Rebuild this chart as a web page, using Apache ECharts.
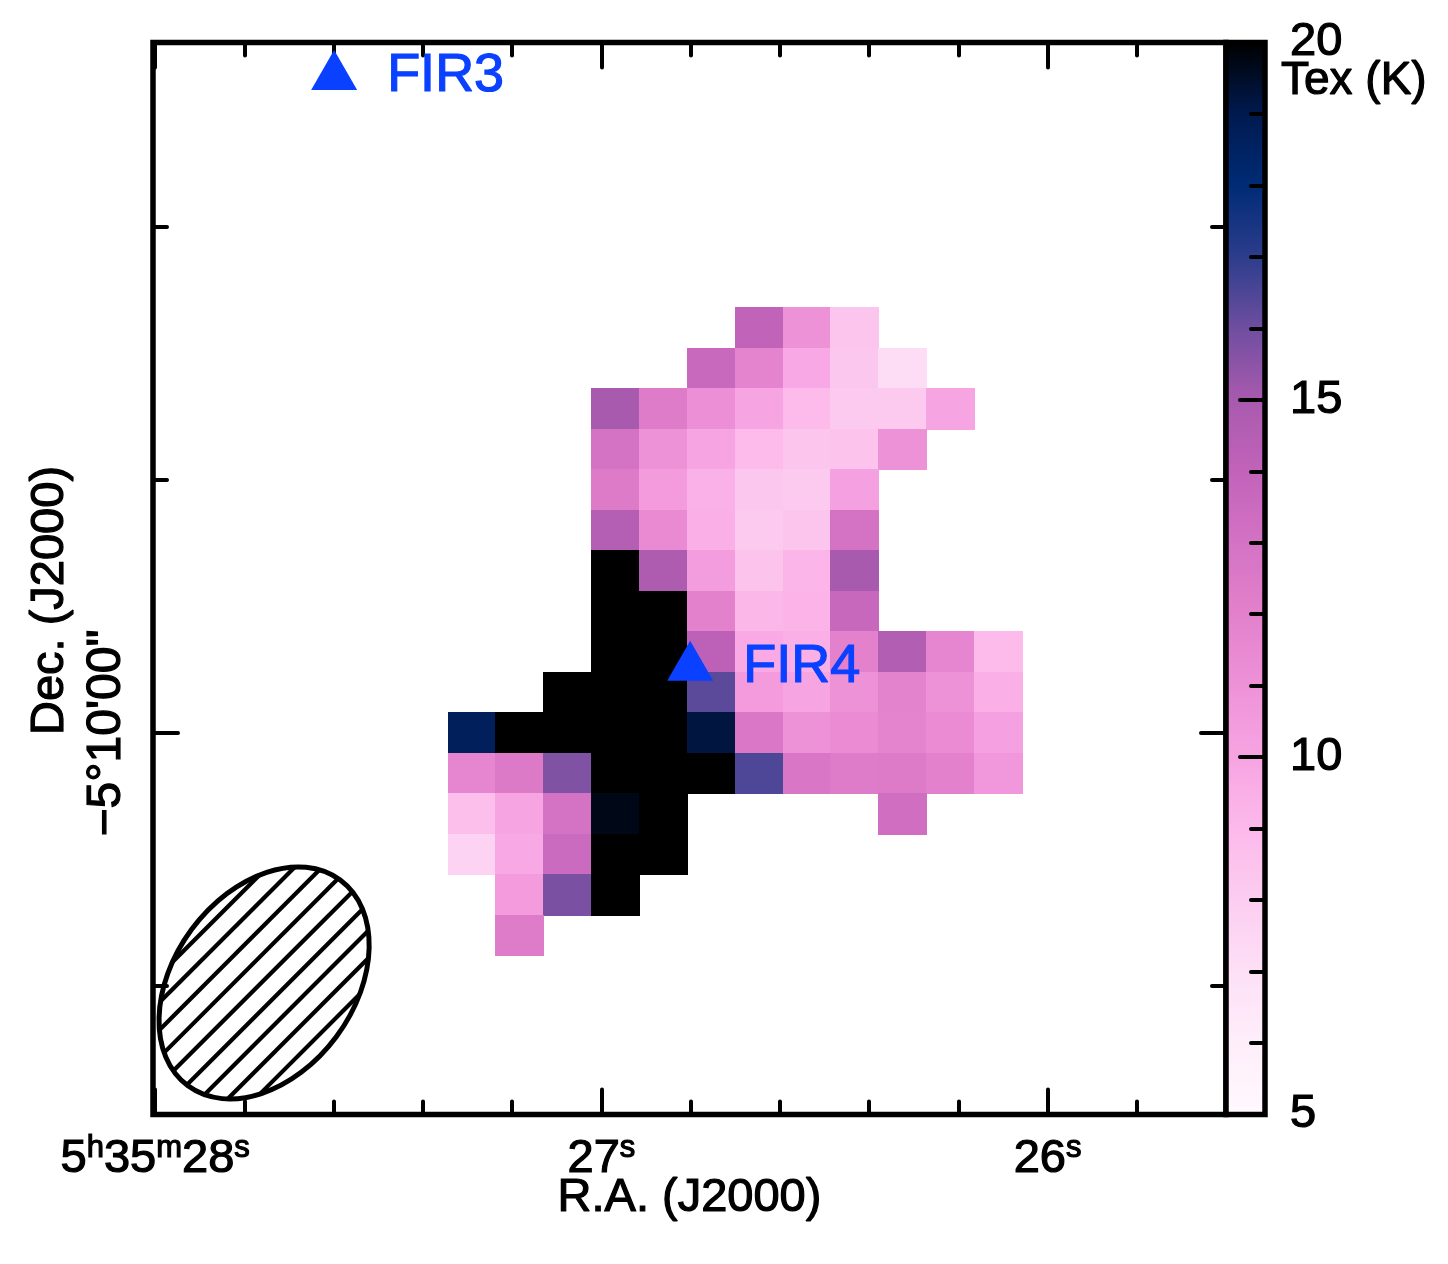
<!DOCTYPE html>
<html>
<head>
<meta charset="utf-8">
<title>Tex map</title>
<script src="https://cdn.jsdelivr.net/npm/echarts@6/dist/echarts.min.js"></script>
<style>
  html, body { margin: 0; padding: 0; background: #fff; }
  #chart { width: 1448px; height: 1264px; }
</style>
</head>
<body>
<div id="chart"></div>
<script>
// RA in seconds (after 5h35m), Dec in arcsec from -5d10m00s
const raMajorTicks = [28, 27, 26];
const raMinorTicks = [27.8, 27.6, 27.4, 27.2, 26.8, 26.6, 26.4, 26.2, 25.8];
const decMajorTicks = [0];
const decMinorTicks = [-10, 10, 20];
const texMajorTicks = [5, 10, 15, 20];
const texMinorTicks = [6, 7, 8, 9, 11, 12, 13, 14, 16, 17, 18, 19];

// pixel centres of the map
const raColumns = [27.290, 27.183, 27.076, 26.968, 26.861, 26.754, 26.646, 26.539, 26.432, 26.325, 26.217, 26.110];
const decRows = [16.0, 14.4, 12.8, 11.2, 9.6, 8.0, 6.4, 4.8, 3.2, 1.6, 0, -1.6, -3.2, -4.8, -6.4, -8.0];
const cellRa = 0.1073;
const cellDec = 1.603;

// Tex per row, saturated pixels kept at 20
const _ = null;
const texRow0  = [_, _, _, _, _, _, 14.0, 11.0, 8.4, _, _, _];
const texRow1  = [_, _, _, _, _, 13.6, 11.8, 9.8, 8.3, 7.2, _, _];
const texRow2  = [_, _, _, 15.0, 12.3, 11.2, 10.0, 8.9, 8.2, 8.2, 10.0, _];
const texRow3  = [_, _, _, 13.0, 11.0, 10.0, 8.9, 8.4, 8.5, 11.0, _, _];
const texRow4  = [_, _, _, 12.4, 10.5, 9.4, 8.3, 8.2, 10.2, _, _, _];
const texRow5  = [_, _, _, 14.5, 11.5, 9.5, 8.2, 8.4, 13.0, _, _, _];
const texRow6  = [_, _, _, 20, 14.8, 10.4, 8.5, 9.2, 15.0, _, _, _];
const texRow7  = [_, _, _, 20, 20, 12.0, 9.1, 9.3, 13.7, _, _, _];
const texRow8  = [_, _, _, 20, 20, 14.2, 9.7, 9.5, 12.0, 14.6, 11.7, 8.9];
const texRow9  = [_, _, 20, 20, 20, 16.3, 10.5, 10.0, 11.0, 11.9, 11.0, 9.5];
const texRow10 = [18.7, 20, 20, 20, 20, 19.2, 12.6, 11.0, 11.4, 11.8, 11.4, 10.2];
const texRow11 = [11.7, 12.5, 15.7, 20, 20, 20, 16.5, 12.7, 12.3, 12.4, 12.0, 10.7];
const texRow12 = [8.7, 10.0, 13.0, 19.7, 20, _, _, _, _, 13.2, _, _];
const texRow13 = [7.7, 9.8, 13.5, 20, 20, _, _, _, _, _, _, _];
const texRow14 = [_, 10.5, 15.8, 20, _, _, _, _, _, _, _, _];
const texRow15 = [_, 12.3, _, _, _, _, _, _, _, _, _, _];
const texRows = [texRow0, texRow1, texRow2, texRow3, texRow4, texRow5, texRow6, texRow7,
  texRow8, texRow9, texRow10, texRow11, texRow12, texRow13, texRow14, texRow15];

// one colour per kelvin, 5 to 20
const colorStops = ['#fff9fd', '#feeefa', '#fde0f6', '#fccdf0', '#fcb9ea', '#f7a4e2', '#ee92d8', '#e381cc',
  '#d472c4', '#c263ba', '#a85aae', '#6f4ea0', '#2c3d8c', '#002b76', '#001a50', '#000000'];

const sourceNames = ['FIR3', 'FIR4'];
const sourceRa = [27.599, 26.801];
const sourceDec = [26.2, 2.85];

// beam: centre, axes in arcsec, angle in degrees from +x
const beamRa = 27.756;
const beamDec = -9.88;
const beamMajor = 5.06;
const beamMinor = 3.56;
const beamAngle = 53.5;
const hatchSteps = [-4, -3, -2, -1, 0, 1, 2, 3, 4];

const font = 'Liberation Sans';
const blue = '#0a40ff';
const heavy = { textBorderColor: '#000', textBorderWidth: 1.2 };

const cellData = [];
texRows.forEach((row, r) => {
  row.forEach((tex, c) => {
    if (tex !== null) cellData.push([raColumns[c], decRows[r], tex]);
  });
});

function renderCell(params, api) {
  const center = api.coord([api.value(0), api.value(1)]);
  const size = api.size([cellRa, cellDec]);
  // snap to whole pixels, rounding outwards so neighbours leave no seam
  const x1 = Math.floor(center[0] - size[0] / 2);
  const x2 = Math.ceil(center[0] + size[0] / 2);
  const y1 = Math.floor(center[1] - size[1] / 2);
  const y2 = Math.ceil(center[1] + size[1] / 2);
  return {
    type: 'rect',
    shape: { x: x1, y: y1, width: x2 - x1, height: y2 - y1 },
    style: { fill: api.visual('color') }
  };
}

function renderBeam(params, api) {
  const c = api.coord([api.value(0), api.value(1)]);
  const perArcsec = api.size([0, 1])[1];
  const a = beamMajor * perArcsec;
  const b = beamMinor * perArcsec;
  const th = beamAngle * Math.PI / 180;
  const e1 = [Math.cos(th), -Math.sin(th)];
  const e2 = [Math.sin(th), Math.cos(th)];
  const d = [Math.SQRT1_2, -Math.SQRT1_2];
  const n = [Math.SQRT1_2, Math.SQRT1_2];
  const children = [];
  // hatch chords, clipped to the ellipse by hand
  hatchSteps.forEach(step => {
    const k = step * 19.4 - 2;
    const u0 = k * (n[0] * e1[0] + n[1] * e1[1]);
    const v0 = k * (n[0] * e2[0] + n[1] * e2[1]);
    const du = d[0] * e1[0] + d[1] * e1[1];
    const dv = d[0] * e2[0] + d[1] * e2[1];
    const A = du * du / (a * a) + dv * dv / (b * b);
    const B = 2 * (u0 * du / (a * a) + v0 * dv / (b * b));
    const C = u0 * u0 / (a * a) + v0 * v0 / (b * b) - 1;
    const disc = B * B - 4 * A * C;
    if (disc <= 0) return;
    const t1 = (-B - Math.sqrt(disc)) / (2 * A);
    const t2 = (-B + Math.sqrt(disc)) / (2 * A);
    children.push({
      type: 'line',
      shape: {
        x1: c[0] + k * n[0] + t1 * d[0], y1: c[1] + k * n[1] + t1 * d[1],
        x2: c[0] + k * n[0] + t2 * d[0], y2: c[1] + k * n[1] + t2 * d[1]
      },
      style: { stroke: '#000', lineWidth: 4.2, fill: null }
    });
  });
  children.push({
    type: 'ellipse',
    x: c[0],
    y: c[1],
    rotation: th,
    shape: { cx: 0, cy: 0, rx: a, ry: b },
    style: { stroke: '#000', lineWidth: 5, fill: 'transparent' }
  });
  return { type: 'group', children: children };
}

const tickStyle = { color: '#000', width: 4, cap: 'round' };

function raAxis(position, ticks, length, extra) {
  return Object.assign({
    type: 'value',
    gridIndex: 0,
    position: position,
    min: 25.6,
    max: 28.005,
    inverse: true,
    axisLine: { show: false, onZero: false },
    axisTick: { show: true, inside: true, length: length, customValues: ticks, lineStyle: tickStyle },
    axisLabel: { show: false },
    splitLine: { show: false }
  }, extra);
}

function decAxis(position, ticks, length, extra) {
  return Object.assign({
    type: 'value',
    gridIndex: 0,
    position: position,
    min: -15.08,
    max: 27.29,
    axisLine: { show: false, onZero: false },
    axisTick: { show: true, inside: true, length: length, customValues: ticks, lineStyle: tickStyle },
    axisLabel: { show: false },
    splitLine: { show: false }
  }, extra);
}

function texAxis(ticks, length, extra) {
  return Object.assign({
    type: 'value',
    gridIndex: 1,
    position: 'right',
    min: 5,
    max: 20,
    z: 8,
    axisLine: { show: false, onZero: false },
    axisTick: { show: true, inside: true, length: length, customValues: ticks, lineStyle: tickStyle },
    axisLabel: { show: false },
    splitLine: { show: false }
  }, extra);
}

const chart = echarts.init(document.getElementById('chart'), null, { renderer: 'canvas' });

chart.setOption({
  animation: false,
  backgroundColor: '#fff',
  textStyle: { fontFamily: font },
  title: {
    text: 'Tex (K)',
    left: 1281,
    top: 58,
    padding: 0,
    textStyle: Object.assign({ fontFamily: font, fontSize: 46, fontWeight: 'normal', color: '#000' }, heavy)
  },
  grid: [
    { left: 153, top: 42.5, width: 1073, height: 1072, outerBoundsMode: 'none', show: true, borderColor: '#000', borderWidth: 5.5, backgroundColor: 'transparent' },
    { left: 1226, top: 42.5, width: 39, height: 1072, outerBoundsMode: 'none', show: true, borderColor: '#000', borderWidth: 5.5, backgroundColor: 'transparent', z: 6 }
  ],
  xAxis: [
    raAxis('bottom', raMinorTicks, 13),
    raAxis('bottom', raMajorTicks, 25, {
      name: 'R.A. (J2000)',
      nameLocation: 'middle',
      nameMoveOverlap: false,
      nameGap: 60,
      nameTextStyle: Object.assign({ fontFamily: font, fontSize: 47, color: '#000' }, heavy),
      axisLabel: {
        show: true,
        margin: 18,
        customValues: raMajorTicks,
        formatter: v => v === 28 ? '{n|5}{u|h}{n|35}{u|m}{n|28}{u|s}' : '{n|' + v + '}{u|s}',
        rich: {
          n: Object.assign({ fontFamily: font, fontSize: 47, lineHeight: 50, padding: [15, 0, 0, 0], verticalAlign: 'bottom', color: '#000' }, heavy),
          u: Object.assign({ fontFamily: font, fontSize: 31, lineHeight: 40, verticalAlign: 'top', color: '#000' }, heavy)
        }
      }
    }),
    raAxis('top', raMinorTicks, 13),
    raAxis('top', raMajorTicks, 25),
    { type: 'value', gridIndex: 1, show: false, min: 0, max: 1 }
  ],
  yAxis: [
    decAxis('left', decMinorTicks, 14),
    decAxis('left', decMajorTicks, 25, {
      name: 'Dec. (J2000)',
      nameLocation: 'middle',
      nameMoveOverlap: false,
      nameGap: 79,
      nameTextStyle: Object.assign({ fontFamily: font, fontSize: 47, color: '#000', padding: [0, 44, 0, 0] }, heavy),
      axisLabel: Object.assign({
        show: true,
        rotate: 90,
        margin: 22,
        customValues: decMajorTicks,
        formatter: () => '\u22125\u00b010\'00"',
        fontFamily: font,
        fontSize: 48,
        color: '#000'
      }, heavy)
    }),
    decAxis('right', decMinorTicks, 14),
    decAxis('right', decMajorTicks, 25),
    texAxis(texMinorTicks, 14),
    texAxis(texMajorTicks, 25, {
      axisLabel: Object.assign({
        show: true,
        inside: false,
        margin: 25,
        customValues: texMajorTicks,
        fontFamily: font,
        fontSize: 47,
        color: '#000',
        align: 'left'
      }, heavy)
    })
  ],
  visualMap: {
    type: 'continuous',
    seriesIndex: 0,
    dimension: 2,
    min: 5,
    max: 20,
    left: 1228,
    top: 42.5,
    padding: 0,
    itemWidth: 35,
    itemHeight: 1072,
    calculable: false,
    hoverLink: false,
    text: null,
    inRange: { color: colorStops }
  },
  series: [
    {
      type: 'custom',
      name: 'Tex',
      coordinateSystem: 'cartesian2d',
      xAxisIndex: 0,
      yAxisIndex: 0,
      renderItem: renderCell,
      data: cellData,
      z: 2
    },
    {
      type: 'custom',
      name: 'Beam',
      coordinateSystem: 'cartesian2d',
      xAxisIndex: 0,
      yAxisIndex: 0,
      renderItem: renderBeam,
      data: [[beamRa, beamDec]],
      z: 3
    },
    {
      type: 'scatter',
      name: 'Sources',
      xAxisIndex: 0,
      yAxisIndex: 0,
      symbol: 'triangle',
      symbolSize: [46, 40],
      itemStyle: { color: blue, opacity: 1 },
      label: {
        show: true,
        position: 'right',
        distance: 30,
        offset: [0, 6],
        formatter: p => p.name,
        fontFamily: font,
        fontSize: 54,
        color: blue,
        textBorderColor: blue,
        textBorderWidth: 1.2
      },
      data: sourceNames.map((name, i) => ({ name: name, value: [sourceRa[i], sourceDec[i]] })),
      z: 4
    }
  ]
});
</script>
</body>
</html>
